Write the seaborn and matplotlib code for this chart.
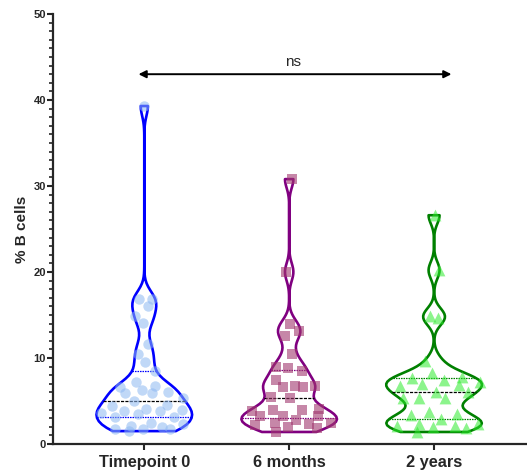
import numpy as np
import pandas as pd
import matplotlib
matplotlib.use("Agg")
import matplotlib.pyplot as plt
import seaborn as sns

groups = ["Timepoint 0", "6 months", "2 years"]

timepoint0 = [39.3, 16.9, 16.9, 16.0, 14.9, 14.1, 11.6, 10.5, 9.5, 8.5, 7.2, 6.3,
              6.8, 6.6, 6.0, 5.9, 5.9, 5.3, 5.0, 4.4, 4.5, 4.1, 4.0, 3.8, 3.5, 3.8,
              3.6, 3.1, 3.1, 2.5, 2.0, 1.8, 1.7, 2.1, 1.7, 2.3, 1.5]
months6 = [30.8, 20.0, 13.9, 12.6, 13.1, 10.5, 8.8, 8.5, 9.0, 6.6, 6.8, 6.8,
           7.4, 6.6, 5.3, 5.5, 4.0, 3.9, 4.1, 3.8, 3.3, 3.2, 3.3, 2.8, 2.3, 2.2,
           1.9, 2.4, 2.0, 2.5, 1.4]
years2 = [26.6, 20.2, 14.9, 14.7, 9.6, 8.3, 7.4, 7.2, 7.8, 7.7, 7.0, 6.8, 6.9,
          6.1, 5.4, 5.3, 6.0, 5.3, 3.4, 3.5, 3.7, 2.9, 2.3, 2.1, 2.1, 2.0, 1.9,
          2.3, 1.4]

line_colors = ["#0000FF", "#800080", "#008000"]
point_colors = ["#8DB8F2", "#A0386E", "#2EEB2E"]
point_alpha = [0.55, 0.6, 0.55]
markers = ["o", "s", "^"]
msizes = [7.5, 7.5, 8.5]

BW_ADJ = 0.33
VWIDTH = 0.66

df = pd.DataFrame({
    "group": [groups[0]] * len(timepoint0) + [groups[1]] * len(months6) + [groups[2]] * len(years2),
    "value": timepoint0 + months6 + years2,
})

sns.set_theme(style="ticks")
plt.rcParams["font.family"] = ["Liberation Sans", "DejaVu Sans"]

fig = plt.figure(figsize=(5.27, 4.73), dpi=100)
ax = fig.add_axes([0.1006, 0.0613, 0.899, 0.9091])

sns.violinplot(data=df, x="group", y="value", hue="group", order=groups,
               hue_order=groups, palette=line_colors, fill=False, cut=0,
               density_norm="width", width=VWIDTH, bw_adjust=BW_ADJ, linewidth=1.9,
               inner="quart", inner_kws=dict(linewidth=0.9), legend=False, ax=ax)

for i, ln in enumerate(ax.lines):
    if i % 3 == 1:
        ln.set_color("black")
    ln.set_zorder(3)


def density_fraction(vals, y):
    vals = np.asarray(vals, float)
    bw = vals.std(ddof=1) * len(vals) ** (-0.2) * BW_ADJ
    grid = np.linspace(vals.min(), vals.max(), 400)
    k = lambda t: np.exp(-0.5 * ((np.asarray(t)[:, None] - vals[None, :]) / bw) ** 2).sum(1)
    return k(y) / k(grid).max()


for gi, (g, c, a, m, s) in enumerate(zip(groups, point_colors, point_alpha, markers, msizes)):
    sub = df[df["group"] == g]
    n_before = len(ax.collections)
    sns.stripplot(data=sub, x="group", y="value", order=groups, color=c,
                  alpha=a, marker=m, size=s, jitter=False, linewidth=0,
                  ax=ax, zorder=4)
    for coll in ax.collections[n_before:]:
        offs = np.asarray(coll.get_offsets()).copy()
        if len(offs) == 0:
            continue
        yv = offs[:, 1]
        frac = density_fraction(sub["value"].values, yv)
        order = np.argsort(yv)
        u = np.empty(len(yv))
        u[order] = ((np.arange(len(yv)) * 0.618034 + 0.25) % 1.0) * 2 - 1
        offs[:, 0] = gi + u * 1.0 * (VWIDTH / 2) * frac
        coll.set_offsets(offs)

ax.set_ylim(0, 50)
ax.set_xlim(-0.63, 2.64)
ax.set_yticks(np.arange(0, 51, 10))
ax.set_yticks(np.arange(0, 51, 1), minor=True)
ax.set_xlabel("")
ax.set_ylabel("% B cells", fontsize=11, fontweight="bold", labelpad=3.5)
for lab in ax.get_yticklabels():
    lab.set_fontweight("bold")
    lab.set_fontsize(8)
for lab in ax.get_xticklabels():
    lab.set_fontweight("bold")
    lab.set_fontsize(11.8)

ax.tick_params(axis="y", which="major", length=4, width=1.5, pad=1)
ax.tick_params(axis="y", which="minor", length=3, width=1.2)
ax.tick_params(axis="x", which="major", length=4, width=1.5, pad=4)
for sp in ["left", "bottom"]:
    ax.spines[sp].set_linewidth(1.6)
sns.despine(ax=ax)

ax.annotate("", xy=(-0.04, 43.0), xytext=(2.12, 43.0),
            arrowprops=dict(arrowstyle="<|-|>", color="black", lw=1.4,
                            mutation_scale=11, shrinkA=0, shrinkB=0))
ax.text(1.03, 44.4, "ns", ha="center", va="center", fontsize=11)

fig.savefig("out.png", dpi=100)
